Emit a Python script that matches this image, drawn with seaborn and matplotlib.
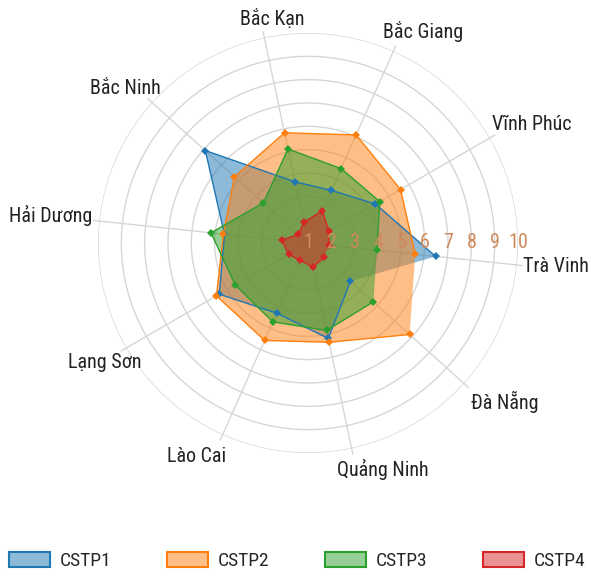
import numpy as np
import pandas as pd
import matplotlib
matplotlib.use("Agg")
import matplotlib.pyplot as plt
from matplotlib import font_manager as fm
from matplotlib.patches import Patch
import seaborn as sns

# Provinces, counter-clockwise from the first spoke
categories = ["Trà Vinh", "Vĩnh Phúc", "Bắc Giang", "Bắc Kạn", "Bắc Ninh",
              "Hải Dương", "Lạng Sơn", "Lào Cai", "Quảng Ninh", "Đà Nẵng"]

series_names = ["CSTP1", "CSTP2", "CSTP3", "CSTP4"]
cstp1 = [6.50, 4.34, 3.47, 3.68, 6.92, 4.60, 5.39, 4.29, 5.18, 3.45]
cstp2 = [5.62, 5.58, 6.07, 5.83, 5.24, 4.65, 5.53, 5.57, 5.35, 6.86]
cstp3 = [3.97, 4.55, 4.49, 5.12, 3.57, 5.18, 4.60, 4.70, 4.83, 4.77]
cstp4 = [1.92, 2.03, 2.51, 1.90, 1.55, 2.13, 1.96, 1.82, 2.05, 1.92]

radial_ticks = [1, 2, 3, 4, 5, 6, 7, 8, 9, 10]

sns.set_theme(style="white")
avail = {f.name for f in fm.fontManager.ttflist}
base_font = next((f for f in ["Roboto Condensed", "Liberation Sans Narrow", "Roboto"]
                  if f in avail), "DejaVu Sans")
plt.rcParams["font.family"] = [base_font, "Roboto", "DejaVu Sans"]

palette = sns.color_palette("tab10", 4)

W, H, DPI = 591, 578, 100
fig = plt.figure(figsize=(W / DPI, H / DPI), dpi=DPI)
cx, cy, R = 308, 243, 210
ax = fig.add_axes([(cx - R) / W, (H - cy - R) / H, 2 * R / W, 2 * R / H],
                  projection="polar")

n = len(categories)
angles = np.arange(n) * 2 * np.pi / n
ax.set_theta_offset(np.deg2rad(-6))
ax.set_ylim(radial_ticks[0], radial_ticks[-1])
ax.spines["polar"].set_visible(False)

# grid: rings and spokes
ring_t = np.linspace(0, 2 * np.pi, 361)
for r in radial_ticks[1:]:
    ax.plot(ring_t, np.full_like(ring_t, r), color="#d6d6d6", lw=1, zorder=0)
for a in angles:
    ax.plot([a, a], [radial_ticks[0], radial_ticks[-1] + 0.25], color="#d6d6d6",
            lw=1, zorder=0, clip_on=False)

# series
rows = []
for name, vals in zip(series_names, [cstp1, cstp2, cstp3, cstp4]):
    for i, (a, v) in enumerate(zip(list(angles) + [angles[0]], vals + [vals[0]])):
        rows.append({"series": name, "theta": a, "value": v, "order": i})
df = pd.DataFrame(rows)

for name, color in zip(series_names, palette):
    d = df[df["series"] == name].sort_values("order")
    ax.fill(d["theta"], d["value"], color=color, alpha=0.5, lw=0, zorder=2)
    sns.lineplot(data=d, x="theta", y="value", sort=False, ax=ax, color=color,
                 lw=1, marker="D", markersize=4.5, markeredgewidth=0,
                 zorder=3, legend=False)
ax.set_xlabel("")
ax.set_ylabel("")
ax.set_xticks([])
ax.set_yticks(radial_ticks[1:])
ax.set_yticklabels([])
ax.grid(False)

# radial value labels along the horizontal
for t in radial_ticks:
    ax.text(np.deg2rad(6), t, str(t), ha="center", va="center", fontsize=14.4,
            color="#cf8a5c", zorder=5)

# category labels (centre offsets from the chart centre, in pixels)
label_offsets = [(248, 24), (224, -119), (115, -211), (-36, -224), (-183, -155),
                 (-257, -27), (-203, 119), (-111, 213), (75, 226), (197, 159)]
for name, (dx, dy) in zip(categories, label_offsets):
    ax.text(0.5 + dx / (2 * R), 0.5 - dy / (2 * R), name, transform=ax.transAxes,
            ha="center", va="center", fontsize=14.4, color="#222222")

handles = [Patch(facecolor=(*c, 0.5), edgecolor=(*c, 1.0), lw=1.5) for c in palette]
fig.legend(handles, series_names, loc="center", bbox_to_anchor=(0.503, 1 - 561 / H),
           ncol=4, frameon=False, fontsize=14, handlelength=2.1,
           handleheight=0.85, handletextpad=0.5, columnspacing=2.88,
           borderpad=0, borderaxespad=0)

fig.savefig("out.png", dpi=DPI)
